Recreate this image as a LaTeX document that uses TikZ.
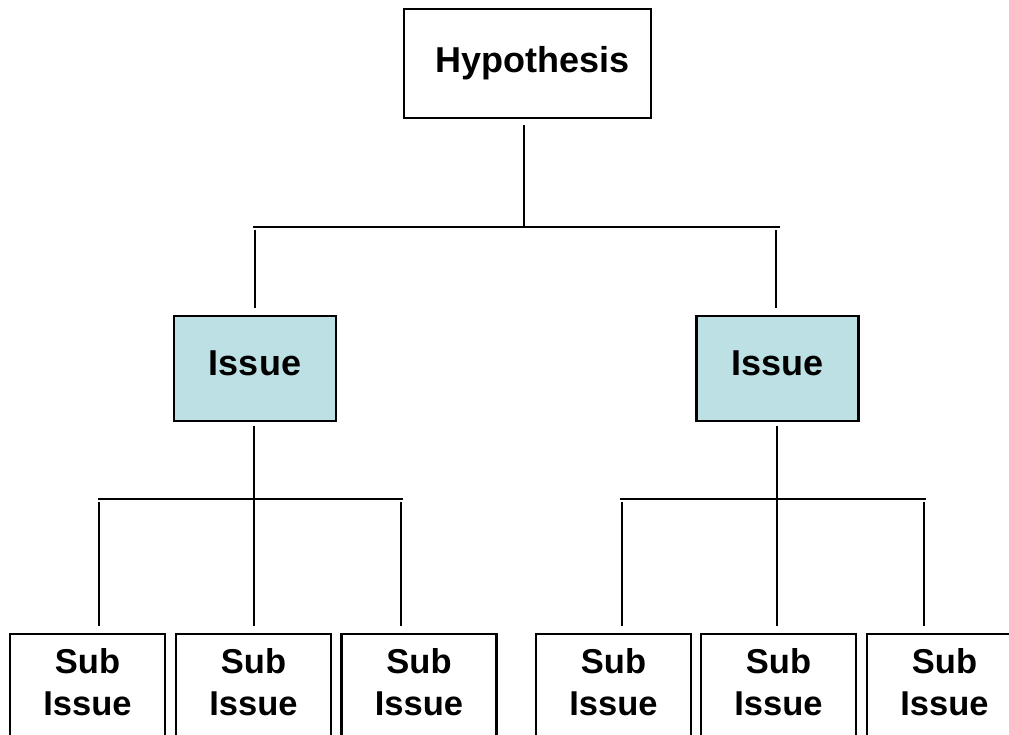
\documentclass[tikz,border=0pt]{standalone}
\usepackage{fontspec}
\setmainfont{Liberation Sans}
\definecolor{issuefill}{RGB}{188,224,228}
\begin{document}
\begin{tikzpicture}[x=1pt,y=-1pt,
  box/.style={draw=black,line width=2.4pt,inner sep=0pt,font=\bfseries\fontsize{36}{42}\selectfont},
  hypbox/.style={box,fill=white,minimum width=247pt,minimum height=109pt},
  issuebox/.style={box,fill=issuefill,minimum width=162pt,minimum height=105pt,text depth=10pt},
  subbox/.style={box,fill=white,minimum width=155pt,minimum height=108pt},
  subtext/.style={anchor=north,inner sep=0pt,align=center,font=\bfseries\fontsize{34.5}{42}\selectfont},
  link/.style={line width=2pt}]
\useasboundingbox (0,0) rectangle (1009,734);
\clip (0,0) rectangle (1009,734);

% top level
\node[hypbox] (hyp) at (527.5,63.5) {\hspace{10pt}Hypothesis};

% second level
\node[issuebox] (iL) at (255,368.5) {Issue};
\node[issuebox] (iR) at (777.5,368.5) {Issue};

% third level
\node[subbox] (s1) at (87.5,688) {};
\node[subbox] (s2) at (253.5,688) {};
\node[subbox] (s3) at (419,688) {};
\node[subbox] (s4) at (613.5,688) {};
\node[subbox] (s5) at (778.5,688) {};
\node[subbox] (s6) at (944.5,688) {};
\foreach \s in {s1,s2,s3,s4,s5,s6}
  \node[subtext] (\s t) at ([yshift=-15pt]\s.north) {Sub\\Issue};

% bus junctions
\coordinate (topbus) at (524,227);
\coordinate (busL) at (254,499);
\coordinate (busR) at (777,499);

% hypothesis to issues
\draw[link,shorten <=6pt] (hyp.south -| topbus) -- (topbus);
\draw[link] (253,227) -- (780,227);
\draw[link,shorten >=7pt] (253,227) ++(2,3) coordinate (tL) -- (tL |- iL.north);
\draw[link,shorten >=7pt] (776,230) coordinate (tR) -- (tR |- iR.north);

% left issue to its sub issues
\draw[link,shorten <=4pt,shorten >=7pt] (iL.south -| busL) -- (busL |- s2.north);
\draw[link] (98,499) -- (403,499);
\draw[link,shorten >=7pt] (99,502) coordinate (a1) -- (a1 |- s1.north);
\draw[link,shorten >=7pt] (401,502) coordinate (a3) -- (a3 |- s3.north);

% right issue to its sub issues
\draw[link,shorten <=4pt,shorten >=7pt] (iR.south -| busR) -- (busR |- s5.north);
\draw[link] (620,499) -- (926,499);
\draw[link,shorten >=7pt] (622,502) coordinate (b1) -- (b1 |- s4.north);
\draw[link,shorten >=7pt] (924,502) coordinate (b3) -- (b3 |- s6.north);
\end{tikzpicture}
\end{document}
